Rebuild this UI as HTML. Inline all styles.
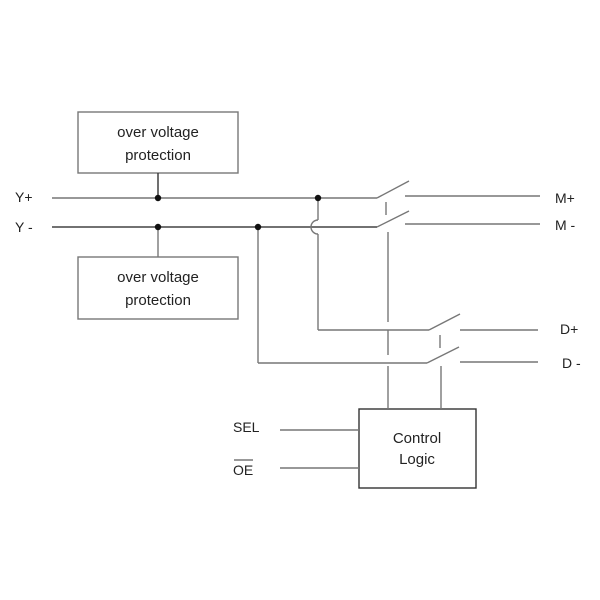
<!DOCTYPE html>
<html><head><style>body{margin:0;background:#fff}svg{display:block}text{font-family:"Liberation Sans",sans-serif;fill:#222}</style></head>
<body>
<svg width="600" height="600" viewBox="0 0 600 600">
<g stroke="#777" stroke-width="1.4" fill="none">
<rect x="78" y="112" width="160" height="61"/>
<rect x="78" y="257" width="160" height="62"/>
<rect x="359" y="409" width="117" height="79" stroke="#333"/>
<line x1="158" y1="173" x2="158" y2="198" stroke="#333"/>
<line x1="158" y1="227" x2="158" y2="257"/>
<line x1="52" y1="198" x2="377" y2="198"/>
<line x1="52" y1="227" x2="377" y2="227" stroke="#444"/>
<line x1="377" y1="198" x2="409" y2="181"/>
<line x1="377" y1="227" x2="409" y2="211"/>
<line x1="405" y1="196" x2="540" y2="196"/>
<line x1="405" y1="224" x2="540" y2="224"/>
<line x1="318" y1="198" x2="318" y2="220"/>
<path d="M318 220 A7 7 0 0 0 318 234"/>
<line x1="318" y1="234" x2="318" y2="330"/>
<line x1="318" y1="330" x2="429" y2="330"/>
<line x1="429" y1="330" x2="460" y2="314"/>
<line x1="460" y1="330" x2="538" y2="330"/>
<line x1="258" y1="227" x2="258" y2="363"/>
<line x1="258" y1="363" x2="427" y2="363"/>
<line x1="427" y1="363" x2="459" y2="347"/>
<line x1="460" y1="362" x2="538" y2="362"/>
<line x1="386" y1="202" x2="386" y2="215"/>
<line x1="388" y1="232" x2="388" y2="322"/>
<line x1="388" y1="330" x2="388" y2="355"/>
<line x1="388" y1="366" x2="388" y2="409"/>
<line x1="440" y1="335" x2="440" y2="348"/>
<line x1="441" y1="366" x2="441" y2="409"/>
<line x1="280" y1="430" x2="359" y2="430"/>
<line x1="280" y1="468" x2="359" y2="468"/>
</g>
<g fill="#111">
<circle cx="158" cy="198" r="3.2"/><circle cx="158" cy="227" r="3.2"/>
<circle cx="258" cy="227" r="3.2"/><circle cx="318" cy="198" r="3.2"/>
</g>
<g font-size="15" text-anchor="middle">
<text x="158" y="137">over voltage</text><text x="158" y="160">protection</text>
<text x="158" y="282">over voltage</text><text x="158" y="305">protection</text>
<text x="417" y="443">Control</text><text x="417" y="464">Logic</text>
</g>
<g font-size="14">
<text x="15" y="202">Y+</text><text x="15" y="232">Y -</text>
<text x="555" y="203">M+</text><text x="555" y="230">M -</text>
<text x="560" y="334">D+</text><text x="562" y="368">D -</text>
<text x="233" y="432">SEL</text><text x="233" y="475">OE</text>
</g>
<line x1="234" y1="460" x2="253" y2="460" stroke="#333" stroke-width="1"/>
</svg>
</body></html>
